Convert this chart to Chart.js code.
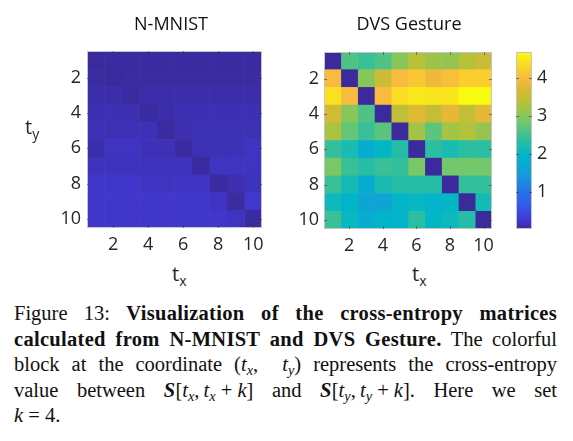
<!DOCTYPE html>
<html>
<head>
<meta charset="utf-8">
<script src="https://cdn.jsdelivr.net/npm/chart.js@4"></script>
<style>
  body { margin: 0; width: 573px; height: 441px; background: #fff; position: relative; overflow: hidden; }
  canvas { position: absolute; top: 0; }
  .lbl { position: absolute; font-family: "Open Sans", sans-serif; color: #111; white-space: nowrap; }
  .ttl { font-size: 18px; line-height: 24px; width: 120px; text-align: center; top: 11px; }
  .ax { font-size: 20px; line-height: 20px; color: #262626; }
  .ax sub { font-size: 14px; line-height: 0; vertical-align: -5px; }
  #caption { position: absolute; left: 14px; top: 301px; width: 543px; font-family: "Liberation Serif", "Times New Roman", serif; font-size: 20.5px; line-height: 25.6px; color: #111; }
  #caption b { letter-spacing: 0.3px; }
  #caption .ln { display: block; text-align: justify; text-align-last: justify; white-space: nowrap; }
  #caption .last { display: block; }
  #caption sub { font-size: 0.7em; line-height: 0; vertical-align: -0.25em; }
</style>
</head>
<body>
<canvas id="left" width="280" height="260" style="left:0px"></canvas>
<canvas id="right" width="210" height="260" style="left:290px"></canvas>
<canvas id="cbar" width="73" height="260" style="left:500px"></canvas>

<div class="lbl ttl" style="left:111px">N-MNIST</div>
<div class="lbl ttl" style="left:349px">DVS Gesture</div>
<div class="lbl ax" style="left:172px; top:264px">t<sub>x</sub></div>
<div class="lbl ax" style="left:412px; top:264px">t<sub>x</sub></div>
<div class="lbl ax" style="left:25px; top:117px">t<sub>y</sub></div>

<div id="caption">
  <span class="ln">Figure 13: <b>Visualization of the cross-entropy matrices</b></span>
  <span class="ln"><b>calculated from N-MNIST and DVS Gesture.</b> The colorful</span>
  <span class="ln">block at the coordinate (<i>t</i><sub><i>x</i></sub>,&nbsp;&nbsp;<i>t</i><sub><i>y</i></sub>) represents the cross-entropy</span>
  <span class="ln">value between <b><i>S</i></b>[<i>t</i><sub><i>x</i></sub>,&#8201;<i>t</i><sub><i>x</i></sub>&#8197;+&#8197;<i>k</i>] and <b><i>S</i></b>[<i>t</i><sub><i>y</i></sub>,&#8201;<i>t</i><sub><i>y</i></sub>&#8197;+&#8197;<i>k</i>]. Here we set</span>
  <span class="last"><i>k</i> = 4.</span>
</div>

<script>
// t_x (columns) and t_y (rows)
const txLabels = ['1', '2', '3', '4', '5', '6', '7', '8', '9', '10'];
const tyLabels = ['1', '2', '3', '4', '5', '6', '7', '8', '9', '10'];
const axisTicks = [2, 4, 6, 8, 10];

// colour limits and colorbar ticks
const climMin = 0.03;
const climMax = 4.68;
const colorbarTicks = [1, 2, 3, 4];

// cross-entropy, row = t_y, column = t_x
const nmnist = [
  [0.04, 0.05, 0.05, 0.05, 0.05, 0.05, 0.05, 0.05, 0.05, 0.05],
  [0.06, 0.04, 0.06, 0.06, 0.06, 0.06, 0.06, 0.06, 0.06, 0.06],
  [0.10, 0.10, 0.05, 0.10, 0.10, 0.10, 0.10, 0.10, 0.10, 0.10],
  [0.13, 0.13, 0.12, 0.05, 0.09, 0.13, 0.13, 0.13, 0.13, 0.13],
  [0.16, 0.16, 0.16, 0.15, 0.05, 0.12, 0.15, 0.15, 0.15, 0.15],
  [0.11, 0.20, 0.20, 0.16, 0.16, 0.05, 0.15, 0.15, 0.15, 0.20],
  [0.18, 0.18, 0.18, 0.18, 0.18, 0.18, 0.05, 0.20, 0.20, 0.20],
  [0.24, 0.24, 0.24, 0.20, 0.20, 0.20, 0.20, 0.05, 0.12, 0.18],
  [0.24, 0.24, 0.24, 0.24, 0.24, 0.24, 0.24, 0.20, 0.06, 0.25],
  [0.24, 0.24, 0.24, 0.24, 0.24, 0.24, 0.24, 0.24, 0.20, 0.05]
];

const dvsGesture = [
  [0.03, 2.60, 2.45, 2.60, 3.00, 3.40, 3.15, 3.10, 3.35, 3.55],
  [4.00, 0.03, 3.00, 3.55, 4.00, 4.15, 3.90, 4.05, 4.20, 4.20],
  [4.40, 4.00, 0.03, 4.00, 4.35, 4.50, 4.45, 4.45, 4.68, 4.68],
  [3.60, 3.00, 2.60, 0.03, 3.45, 3.75, 3.50, 3.80, 3.50, 3.80],
  [3.25, 2.75, 2.45, 2.70, 0.03, 3.20, 2.70, 3.20, 3.30, 3.10],
  [2.40, 2.20, 1.80, 2.00, 2.30, 0.03, 2.35, 2.20, 2.35, 2.35],
  [2.90, 2.45, 2.30, 2.45, 2.40, 2.90, 0.03, 2.85, 2.85, 2.85],
  [2.45, 2.15, 1.80, 2.20, 2.30, 2.30, 2.30, 0.03, 2.40, 2.40],
  [2.10, 1.95, 1.65, 1.60, 1.95, 2.05, 1.90, 2.00, 0.03, 2.15],
  [2.45, 2.05, 1.80, 1.95, 1.95, 2.35, 2.00, 2.10, 2.30, 0.03]
];

// parula-like colormap as it appears in the figure
const cmap = [
  [0.00, [58, 42, 155]],
  [0.06, [66, 58, 218]],
  [0.13, [52, 88, 235]],
  [0.22, [35, 120, 230]],
  [0.32, [18, 160, 215]],
  [0.42, [0, 182, 200]],
  [0.50, [45, 190, 160]],
  [0.60, [110, 200, 110]],
  [0.70, [175, 195, 60]],
  [0.78, [215, 185, 50]],
  [0.85, [248, 185, 62]],
  [0.92, [252, 215, 40]],
  [1.00, [248, 250, 15]]
];

function colorFor(v) {
  let t = (v - climMin) / (climMax - climMin);
  t = Math.max(0, Math.min(1, t));
  for (let i = 1; i < cmap.length; i++) {
    if (t <= cmap[i][0]) {
      const [t0, c0] = cmap[i - 1];
      const [t1, c1] = cmap[i];
      const f = (t - t0) / (t1 - t0);
      const c = c0.map((a, k) => Math.round(a + (c1[k] - a) * f));
      return `rgb(${c[0]},${c[1]},${c[2]})`;
    }
  }
  return 'rgb(248,250,15)';
}

const tickFont = { family: 'Open Sans', size: 18 };
const tickColor = '#262626';

// grey box and small inward ticks, like a MATLAB axes
const boxPlugin = {
  id: 'box',
  afterDatasetsDraw(chart) {
    const { ctx, chartArea: a } = chart;
    ctx.save();
    ctx.strokeStyle = '#c4c4c4';
    ctx.lineWidth = 1;
    ctx.strokeRect(Math.round(a.left) + 0.5, Math.round(a.top) + 0.5, Math.round(a.width) - 1, Math.round(a.height) - 1);
    ctx.strokeStyle = 'rgba(60,60,60,0.6)';
    const len = 3;
    Object.values(chart.scales).forEach(s => {
      if (!s.options.display) return;
      s.ticks.forEach((tk, i) => {
        if (s.type === 'category' && !axisTicks.includes(Number(s.getLabels()[tk.value]))) return;
        const p = Math.round(s.getPixelForTick(i)) + 0.5;
        ctx.beginPath();
        if (s.isHorizontal()) {
          ctx.moveTo(p, a.bottom); ctx.lineTo(p, a.bottom - len);
          ctx.moveTo(p, a.top); ctx.lineTo(p, a.top + len);
        } else {
          ctx.moveTo(a.left, p); ctx.lineTo(a.left + len, p);
          ctx.moveTo(a.right, p); ctx.lineTo(a.right - len, p);
        }
        ctx.stroke();
      });
    });
    ctx.restore();
  }
};

function heatmap(id, matrix, box) {
  const datasets = txLabels.map((tx, c) => ({
    data: tyLabels.map(() => [c + 0.5, c + 1.5]),
    backgroundColor: tyLabels.map((ty, r) => colorFor(matrix[r][c])),
    borderWidth: 0,
    barPercentage: 1,
    categoryPercentage: 1,
    grouped: false
  }));
  return new Chart(document.getElementById(id), {
    type: 'bar',
    data: { labels: tyLabels, datasets },
    plugins: [boxPlugin],
    options: {
      indexAxis: 'y',
      responsive: false,
      animation: false,
      devicePixelRatio: 1,
      layout: { padding: { top: box.top, right: box.right, bottom: 0, left: 0 } },
      plugins: { legend: { display: false }, tooltip: { enabled: false }, title: { display: false } },
      scales: {
        x: {
          type: 'linear', min: 0.5, max: 10.5,
          afterBuildTicks: s => { s.ticks = axisTicks.map(v => ({ value: v })); },
          afterFit: s => { s.height = box.xh; },
          grid: { display: false, drawTicks: false },
          border: { display: false },
          ticks: { font: tickFont, color: tickColor, padding: 6, maxRotation: 0, autoSkip: false }
        },
        y: {
          type: 'category',
          afterFit: s => { s.width = box.yw; },
          grid: { display: false, drawTicks: false },
          border: { display: false },
          ticks: {
            font: tickFont, color: tickColor, padding: box.pad, autoSkip: false,
            callback: function (v) {
              const l = this.getLabelForValue(v);
              return axisTicks.includes(Number(l)) ? l : '';
            }
          }
        }
      }
    }
  });
}

heatmap('left', nmnist, { top: 51, right: 18, xh: 32, yw: 87, pad: 6 });
heatmap('right', dvsGesture, { top: 52, right: 3, xh: 31, yw: 34, pad: 5 });

// colorbar
new Chart(document.getElementById('cbar'), {
  type: 'bar',
  data: {
    labels: [''],
    datasets: [{
      data: [[climMin, climMax]],
      backgroundColor: ctx => {
        const ca = ctx.chart.chartArea;
        if (!ca) return null;
        const g = ctx.chart.ctx.createLinearGradient(0, ca.bottom, 0, ca.top);
        cmap.forEach(([t, c]) => g.addColorStop(t, `rgb(${c[0]},${c[1]},${c[2]})`));
        return g;
      },
      borderWidth: 0,
      barPercentage: 1,
      categoryPercentage: 1
    }]
  },
  plugins: [boxPlugin],
  options: {
    responsive: false,
    animation: false,
    devicePixelRatio: 1,
    layout: { padding: { top: 52, bottom: 31, left: 16, right: 0 } },
    plugins: { legend: { display: false }, tooltip: { enabled: false } },
    scales: {
      x: { display: false },
      y: {
        position: 'right', min: climMin, max: climMax,
        afterBuildTicks: s => { s.ticks = colorbarTicks.map(v => ({ value: v })); },
        afterFit: s => { s.width = 41; },
        grid: { display: false, drawTicks: false },
        border: { display: false },
        ticks: { font: tickFont, color: tickColor, padding: 5 }
      }
    }
  }
});
</script>
</body>
</html>
